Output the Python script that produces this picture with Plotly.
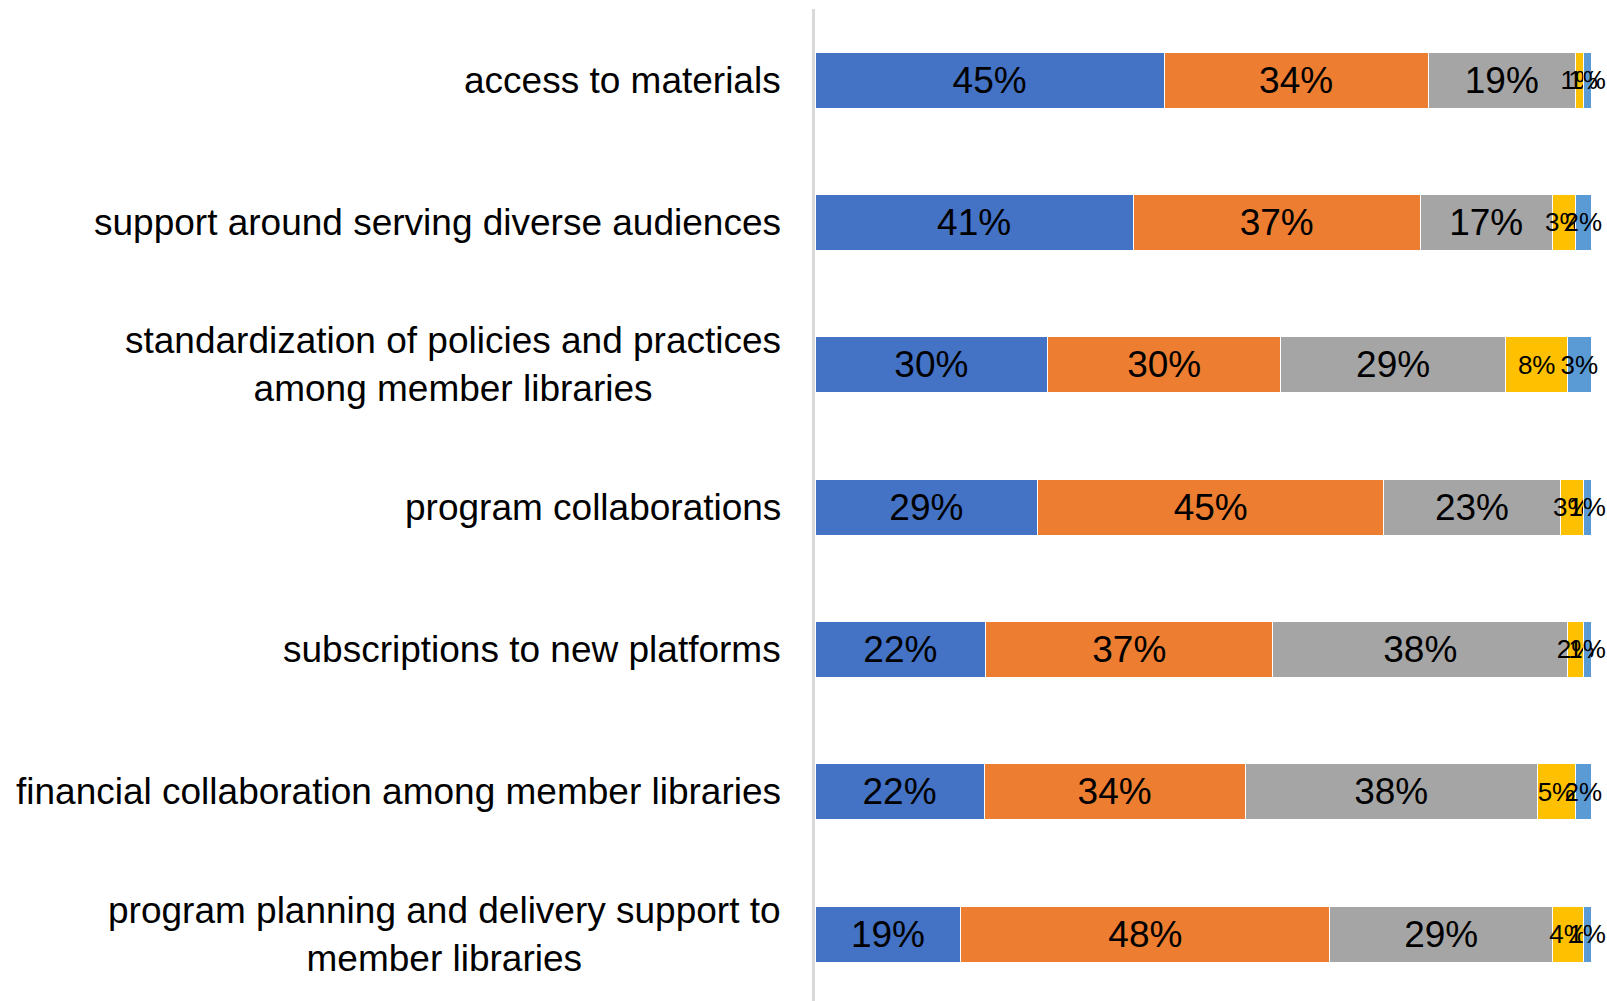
import plotly.graph_objects as go

# Survey items (top to bottom) and the share of responses in each rating band
categories = [
    "access to materials",
    "support around serving diverse audiences",
    "standardization of policies and practices<br>among member libraries",
    "program collaborations",
    "subscriptions to new platforms",
    "financial collaboration among member libraries",
    "program planning and delivery support to<br>member libraries",
]
band_1 = [45, 41, 30, 29, 22, 22, 19]
band_2 = [34, 37, 30, 45, 37, 34, 48]
band_3 = [19, 17, 29, 23, 38, 38, 29]
band_4 = [1, 3, 8, 3, 2, 5, 4]
band_5 = [1, 2, 3, 1, 1, 2, 1]

bands = [band_1, band_2, band_3, band_4, band_5]
colors = ["#4472C4", "#ED7D31", "#A5A5A5", "#FFC000", "#5B9BD5"]

FONT = "Liberation Sans, Arial, sans-serif"

fig = go.Figure()
for vals, col in zip(bands, colors):
    fig.add_trace(go.Bar(
        y=categories,
        x=vals,
        orientation="h",
        marker=dict(color=col, line=dict(color="white", width=1)),
        text=[f"{v}%" for v in vals],
        textposition="inside",
        insidetextanchor="middle",
        textangle=0,
        constraintext="none",
        cliponaxis=False,
        textfont=dict(family=FONT, color="black",
                      size=[37 if v >= 10 else 26 for v in vals]),
        hoverinfo="skip",
        showlegend=False,
    ))

# Category labels, centred line by line and right-aligned to the axis
for cat in categories:
    fig.add_annotation(
        x=0, y=cat, xref="x", yref="y",
        text=cat, showarrow=False,
        xanchor="right", yanchor="middle", align="center",
        xshift=-32,
        font=dict(family=FONT, size=37, color="black"),
    )

# End-of-scale tick label sitting just under the plot area
fig.add_annotation(
    x=1, y=0, xref="x", yref="paper",
    text="100%", showarrow=False,
    xanchor="center", yanchor="top", yshift=6,
    font=dict(family=FONT, size=35, color="black"),
)

fig.update_layout(
    width=1607, height=1001,
    margin=dict(l=815, r=16, t=9, b=0),
    barmode="stack",
    barnorm="fraction",
    bargap=0.606,
    plot_bgcolor="white",
    paper_bgcolor="white",
    xaxis=dict(range=[0, 1], showgrid=False, zeroline=False,
               showticklabels=False, fixedrange=True),
    yaxis=dict(range=[6.47, -0.5], showticklabels=False, showgrid=False,
               zeroline=False, showline=True, linecolor="#D9D9D9",
               linewidth=2.5, ticks=""),
)

fig.write_html("out.html")
